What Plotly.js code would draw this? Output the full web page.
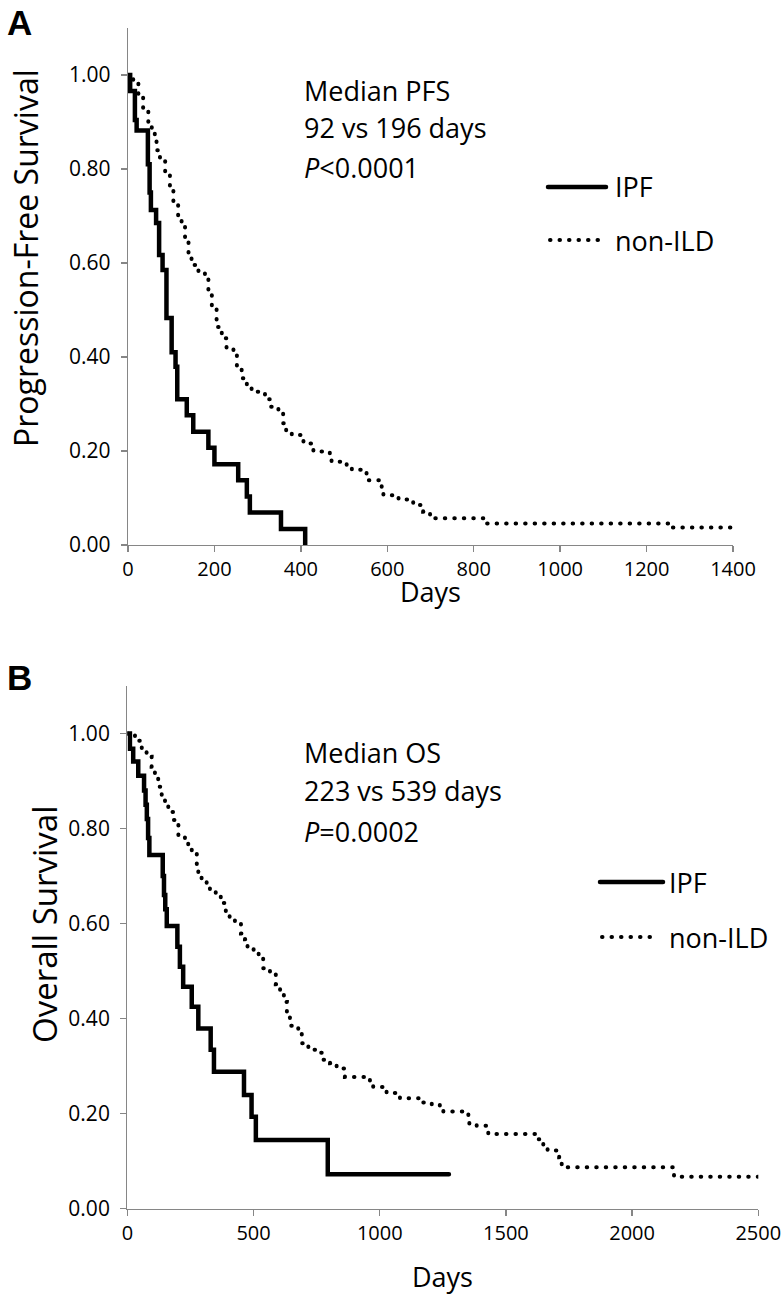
<!DOCTYPE html>
<html><head><meta charset="utf-8">
<script src="https://cdn.plot.ly/plotly-3.0.1.min.js"></script>
<style>
html,body{margin:0;padding:0;background:#fff}
#chart{width:783px;height:1303px}
.js-line, .shapelayer path {stroke-linecap: round;}
</style></head><body><div id="chart"></div>
<script>
// ---------- Data ----------
// Panel A: Progression-free survival
const pfsIpfDays = [0, 5, 16, 20, 46, 50, 53, 65, 72, 80, 89, 101, 110, 114, 136, 151, 186, 200, 255, 275, 282, 354, 410];
const pfsIpfSurv = [1.0, 0.966, 0.904, 0.882, 0.81, 0.75, 0.713, 0.685, 0.617, 0.585, 0.483, 0.41, 0.379, 0.31, 0.276, 0.241, 0.207, 0.172, 0.138, 0.103, 0.069, 0.034, 0.0];

const pfsNonDays = [0, 12, 24, 35, 47, 55, 62, 66, 74, 86, 97, 105, 116, 124, 132, 140, 147, 163, 178, 186, 194, 205, 217, 228, 244, 252, 263, 275, 286, 317, 329, 348, 359, 366, 379, 406, 429, 467, 471, 506, 518, 552, 587, 591, 626, 660, 683, 699, 826, 1258, 1400];
const pfsNonSurv = [1.0, 0.988, 0.96, 0.926, 0.894, 0.883, 0.870, 0.840, 0.819, 0.787, 0.760, 0.730, 0.699, 0.677, 0.645, 0.613, 0.596, 0.578, 0.571, 0.539, 0.507, 0.464, 0.440, 0.419, 0.404, 0.376, 0.355, 0.340, 0.326, 0.310, 0.294, 0.280, 0.259, 0.241, 0.234, 0.216, 0.199, 0.195, 0.177, 0.168, 0.160, 0.138, 0.123, 0.106, 0.097, 0.085, 0.071, 0.057, 0.046, 0.037, 0.037];

// Panel B: Overall survival
const osIpfDays = [0, 10, 23, 43, 66, 72, 77, 82, 87, 140, 145, 150, 156, 198, 208, 221, 255, 281, 330, 343, 462, 492, 509, 794, 1274];
const osIpfSurv = [1.0, 0.968, 0.941, 0.911, 0.88, 0.85, 0.82, 0.78, 0.744, 0.70, 0.66, 0.63, 0.595, 0.551, 0.509, 0.467, 0.425, 0.379, 0.334, 0.288, 0.239, 0.193, 0.144, 0.072, 0.072];

const osNonDays = [0, 30, 50, 57, 76, 96, 109, 122, 136, 149, 162, 182, 202, 228, 241, 255, 275, 281, 294, 314, 327, 350, 370, 390, 405, 426, 450, 466, 476, 500, 520, 538, 565, 588, 605, 620, 632, 644, 677, 691, 717, 763, 776, 803, 829, 862, 961, 974, 1027, 1080, 1172, 1206, 1238, 1252, 1351, 1355, 1384, 1430, 1628, 1648, 1665, 1711, 1721, 2166, 2500];
const osNonSurv = [1.0, 0.985, 0.979, 0.965, 0.951, 0.930, 0.916, 0.888, 0.871, 0.853, 0.835, 0.818, 0.786, 0.779, 0.762, 0.751, 0.723, 0.706, 0.692, 0.677, 0.667, 0.660, 0.643, 0.625, 0.607, 0.600, 0.579, 0.567, 0.548, 0.537, 0.530, 0.506, 0.494, 0.472, 0.455, 0.435, 0.411, 0.385, 0.376, 0.348, 0.334, 0.328, 0.313, 0.306, 0.295, 0.277, 0.267, 0.256, 0.243, 0.232, 0.223, 0.218, 0.214, 0.204, 0.195, 0.178, 0.174, 0.157, 0.146, 0.132, 0.122, 0.108, 0.087, 0.067, 0.067];

const seriesNames = ["IPF", "non-ILD"];
const xTicksA = [0, 200, 400, 600, 800, 1000, 1200, 1400];
const xTicksB = [0, 500, 1000, 1500, 2000, 2500];
const yTicks = [0, 0.2, 0.4, 0.6, 0.8, 1.0];
const yTitleA = "Progression-Free Survival";
const yTitleB = "Overall Survival";
const xTitle = "Days";
const statsA = ["Median PFS", "92 vs 196 days", "<i>P</i>&lt;0.0001"];
const statsB = ["Median OS", "223 vs 539 days", "<i>P</i>=0.0002"];

// ---------- Layout helpers ----------
const W = 783, H = 1303;
const px = v => v / W;
const py = v => 1 - v / H;
const FONT = "Open Sans, Lato, sans-serif";
const GRAY = "#868686";
const DOT = "0.5px,9px";

const solid = {color: "#000", width: 4.5};
const dotted = {color: "#000", width: 4, dash: DOT};

const traces = [
  {x: pfsIpfDays, y: pfsIpfSurv, name: seriesNames[0], mode: "lines", line: Object.assign({shape: "hv"}, solid), xaxis: "x", yaxis: "y", showlegend: false},
  {x: pfsNonDays, y: pfsNonSurv, name: seriesNames[1], mode: "lines", line: Object.assign({shape: "hv"}, dotted), xaxis: "x", yaxis: "y", showlegend: false},
  {x: osIpfDays, y: osIpfSurv, name: seriesNames[0], mode: "lines", line: Object.assign({shape: "hv"}, solid), xaxis: "x2", yaxis: "y2", showlegend: false},
  {x: osNonDays, y: osNonSurv, name: seriesNames[1], mode: "lines", line: Object.assign({shape: "hv"}, dotted), xaxis: "x2", yaxis: "y2", showlegend: false}
];

function xAxis(dom, range, ticks, anchor) {
  return {
    domain: dom, range: range, anchor: anchor,
    tickmode: "array", tickvals: ticks,
    ticks: "outside", ticklen: 6, tickcolor: GRAY, tickwidth: 1.3,
    showline: true, linecolor: GRAY, linewidth: 1.3,
    showgrid: false, zeroline: false, automargin: false,
    tickfont: {family: FONT, size: 20, color: "#000"}
  };
}
function yAxis(dom, anchor) {
  return {
    domain: dom, range: [0, 1.1], anchor: anchor,
    tickmode: "array", tickvals: yTicks, tickformat: ".2f",
    ticks: "outside", ticklen: 6, tickcolor: GRAY, tickwidth: 1.3,
    showline: true, linecolor: GRAY, linewidth: 1.3,
    showgrid: false, zeroline: false, automargin: false,
    ticklabelstandoff: 6,
    tickfont: {family: FONT, size: 21, color: "#000"}
  };
}

const annotations = [];
function txt(text, x, y, size, extra) {
  annotations.push(Object.assign({
    text: text, xref: "paper", yref: "paper", x: px(x), y: py(y),
    xanchor: "left", yanchor: "middle", showarrow: false,
    font: {family: FONT, size: size, color: "#000"}
  }, extra || {}));
}
// panel letters
const LETTER_FONT = {family: "Liberation Sans, Arial, sans-serif", size: 35, color: "#000"};
txt("<b>A</b>", 5, 22, 35, {font: LETTER_FONT});
txt("<b>B</b>", 5, 677, 35, {font: LETTER_FONT});
// axis titles
txt(xTitle, 430.5, 591, 27, {xanchor: "center"});
txt(xTitle, 442.8, 1276, 27, {xanchor: "center"});
txt(yTitleA, 25, 258, 32, {xanchor: "center", textangle: -90});
txt(yTitleB, 45, 924, 33, {xanchor: "center", textangle: -90});
// statistics text
[90, 128, 167].forEach((yy, i) => txt(statsA[i], 302, yy, 27));
[752, 791, 831].forEach((yy, i) => txt(statsB[i], 302, yy, 27));
// legends
txt(seriesNames[0], 613, 187, 27);
txt(seriesNames[1], 613, 240, 27);
txt(seriesNames[0], 667, 882, 27);
txt(seriesNames[1], 667, 937, 27);

const shapes = [
  {type: "line", xref: "paper", yref: "paper", x0: px(548), x1: px(606), y0: py(187), y1: py(187), line: {color: "#000", width: 4.5}},
  {type: "line", xref: "paper", yref: "paper", x0: px(550), x1: px(604), y0: py(240), y1: py(240), line: {color: "#000", width: 4, dash: DOT}},
  {type: "line", xref: "paper", yref: "paper", x0: px(600), x1: px(663), y0: py(882), y1: py(882), line: {color: "#000", width: 4.5}},
  {type: "line", xref: "paper", yref: "paper", x0: px(602), x1: px(658), y0: py(937), y1: py(937), line: {color: "#000", width: 4, dash: DOT}}
];

const layout = {
  width: W, height: H,
  margin: {l: 0, r: 0, t: 0, b: 0},
  paper_bgcolor: "#fff", plot_bgcolor: "#fff",
  showlegend: false,
  font: {family: FONT, color: "#000"},
  xaxis: xAxis([px(128), px(733)], [0, 1400], xTicksA, "y"),
  yaxis: yAxis([py(545), py(28)], "x"),
  xaxis2: xAxis([px(127.4), px(758.3)], [0, 2500], xTicksB, "y2"),
  yaxis2: yAxis([py(1208.5), py(686)], "x2"),
  annotations: annotations,
  shapes: shapes
};

Plotly.newPlot("chart", traces, layout, {staticPlot: true, displayModeBar: false});
</script></body></html>
